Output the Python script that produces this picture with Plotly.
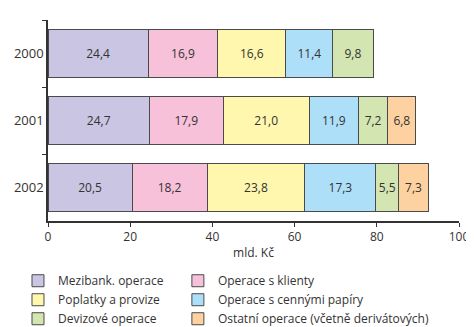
import plotly.graph_objects as go

years = ["2000", "2001", "2002"]
series_names = ["Mezibank. operace", "Operace s klienty", "Poplatky a provize",
                "Operace s cennými papíry", "Devizové operace",
                "Ostatní operace (včetně derivátových)"]
mezibank = [24.4, 24.7, 20.5]
klienti = [16.9, 17.9, 18.2]
poplatky = [16.6, 21.0, 23.8]
cenne_papiry = [11.4, 11.9, 17.3]
devizove = [9.8, 7.2, 5.5]
ostatni = [None, 6.8, 7.3]
x_ticks = [0, 20, 40, 60, 80, 100]

values = [mezibank, klienti, poplatky, cenne_papiry, devizove, ostatni]
colors = ["#c9c5e3", "#f7c1d9", "#fff7ae", "#aedff8", "#d3e5b1", "#fdd1a0"]
legend_ids = ["legend", "legend2", "legend", "legend2", "legend", "legend2"]

FONT = "Open Sans"
fig = go.Figure()
for name, vals, col, lg in zip(series_names, values, colors, legend_ids):
    fig.add_trace(go.Bar(
        y=years, x=vals, name=name, orientation="h", legend=lg,
        marker=dict(color=col, line=dict(color="#4a4a4a", width=1)),
        texttemplate="%{x:.1f}", textposition="inside", insidetextanchor="middle",
        textangle=0,
        textfont=dict(family=FONT, size=12, color="#333333"),
        constraintext="none",
    ))

legend_style = dict(orientation="v", yanchor="top", xanchor="left",
                    font=dict(family=FONT, size=12, color="#333333"),
                    itemwidth=30, traceorder="normal", bgcolor="rgba(0,0,0,0)")

# page body adds an 8px offset; figure sized to fill the rest of the window
fig.update_layout(
    barmode="stack",
    bargap=0.27,
    separators=", ",
    width=466, height=319,
    margin=dict(l=40, r=15, t=12, b=106, autoexpand=False),
    paper_bgcolor="white", plot_bgcolor="white",
    font=dict(family=FONT, size=12, color="#333333"),
    showlegend=True,
    legend=dict(x=-0.073, y=-0.225, **legend_style),
    legend2=dict(x=0.316, y=-0.225, **legend_style),
    uniformtext=dict(mode=False),
)
fig.update_xaxes(range=[0, 100], tickvals=x_ticks, showline=True, linecolor="#333333",
                 linewidth=1.5, ticks="outside", ticklen=4, tickcolor="#333333",
                 showgrid=False, zeroline=False, automargin=False,
                 tickfont=dict(size=12),
                 title=dict(text="mld. Kč", standoff=4, font=dict(size=12)))
fig.update_yaxes(autorange="reversed", showline=True, linecolor="#333333", linewidth=1.5,
                 ticks="outside", ticklen=4, tickcolor="#333333", tickson="boundaries",
                 showgrid=False, ticklabelstandoff=0, automargin=False,
                 tickfont=dict(size=13))
fig.write_html("out.html")
